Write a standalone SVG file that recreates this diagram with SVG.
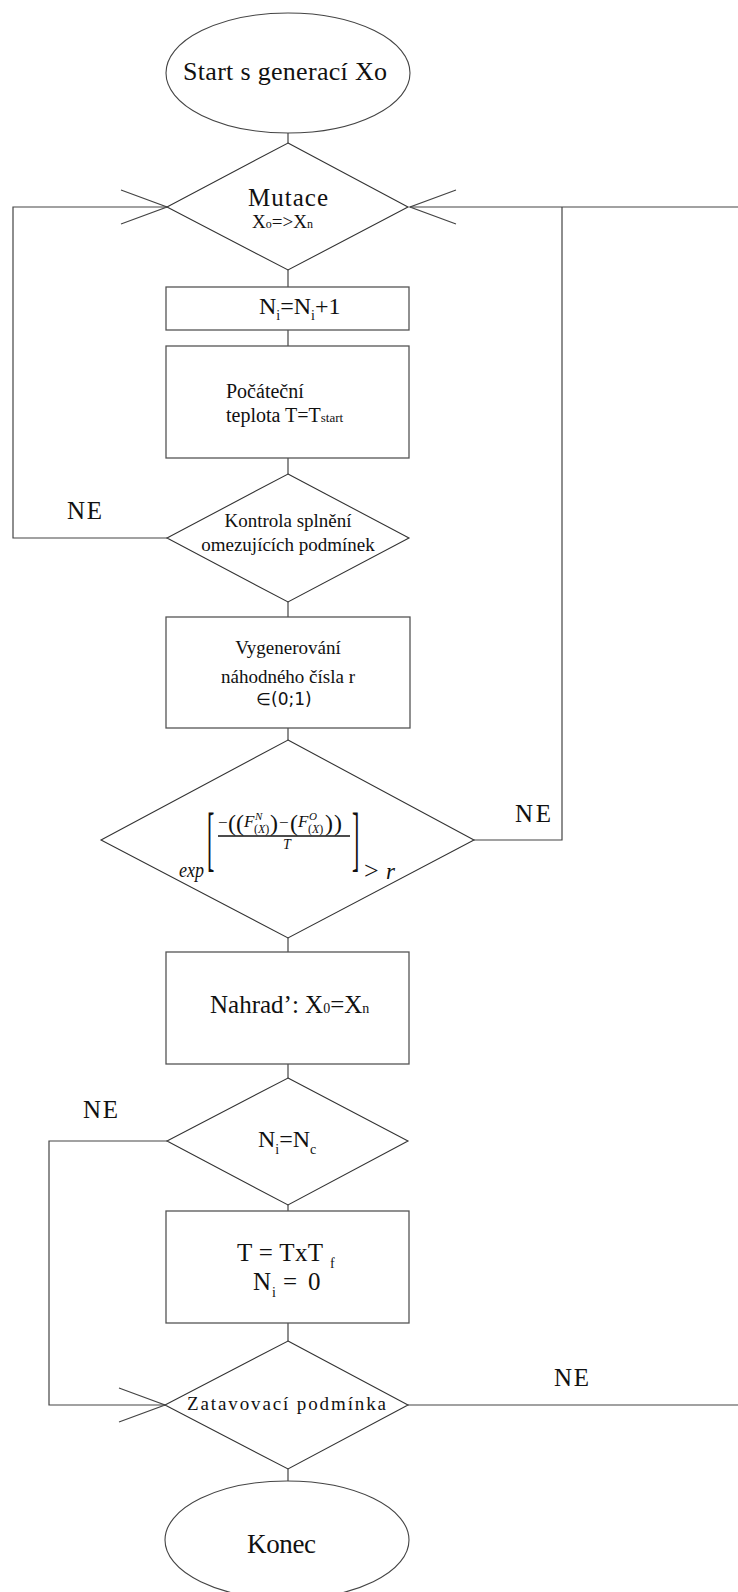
<svg xmlns="http://www.w3.org/2000/svg" width="738" height="1592" viewBox="0 0 738 1592">
  <style>
    .box { fill: #fff; stroke: #555; stroke-width: 1.3; }
    .dec { fill: #fff; stroke: #333; stroke-width: 1.1; }
    .term { fill: #fff; stroke: #444; stroke-width: 1.1; }
    .conn { fill: none; stroke: #444; stroke-width: 1.2; }
    .t { font-family: "Liberation Serif", "Times New Roman", serif; fill: #111; }
    .m { font-family: "Liberation Serif", "Times New Roman", serif; font-style: italic; fill: #111; }
    .s { font-family: "DejaVu Sans", "Noto Sans", sans-serif; fill: #111; }
  </style>
  <defs>
    <!-- open two-stroke arrowhead, tip at the line end -->
    <marker id="open" markerUnits="userSpaceOnUse" viewBox="-48 -19 50 38" refX="0" refY="0" markerWidth="50" markerHeight="38" orient="auto" overflow="visible">
      <path d="M-46,-17 L0,0 L-46,17" fill="none" stroke="#444" stroke-width="1.2"/>
    </marker>
  </defs>

  <rect width="738" height="1592" fill="#fff"/>

  <!-- connectors -->
  <g id="connectors">
    <line class="conn" x1="288" y1="133" x2="288" y2="143"/>
    <line class="conn" x1="288" y1="270" x2="288" y2="287"/>
    <line class="conn" x1="288" y1="330" x2="288" y2="346"/>
    <line class="conn" x1="288" y1="458" x2="288" y2="474"/>
    <line class="conn" x1="288" y1="602" x2="288" y2="617"/>
    <line class="conn" x1="288" y1="728" x2="288" y2="740"/>
    <line class="conn" x1="288" y1="938" x2="288" y2="952"/>
    <line class="conn" x1="288" y1="1064" x2="288" y2="1078"/>
    <line class="conn" x1="288" y1="1205" x2="288" y2="1211"/>
    <line class="conn" x1="288" y1="1323" x2="288" y2="1341"/>
    <line class="conn" x1="288" y1="1469" x2="288" y2="1481"/>
    <!-- NE: constraint check back to mutation -->
    <path class="conn" d="M167,538 H13 V207 H167" marker-end="url(#open)"/>
    <!-- NE: acceptance test back to mutation -->
    <path class="conn" d="M474,840 H562 V207"/>
    <path class="conn" d="M738,207 H410" marker-end="url(#open)"/>
    <!-- NE: Ni=Nc back to stop condition -->
    <path class="conn" d="M167,1141 H49 V1405 H165" marker-end="url(#open)"/>
    <!-- NE: stop condition leaves to the right -->
    <path class="conn" d="M408,1405 H738"/>
    <text class="t" x="67" y="519" font-size="25" textLength="35">NE</text>
    <text class="t" x="515" y="822" font-size="25" textLength="36">NE</text>
    <text class="t" x="83" y="1118" font-size="25" textLength="35">NE</text>
    <text class="t" x="554" y="1386" font-size="25" textLength="35">NE</text>
  </g>

  <g id="start">
    <ellipse class="term" cx="288" cy="73" rx="122" ry="60"/>
    <text class="t" x="183" y="80" font-size="26" textLength="204">Start s generací Xo</text>
  </g>

  <g id="mutace">
    <polygon class="dec" points="288,143 408,207 288,270 167,207"/>
    <text class="t" x="248" y="206" font-size="25" textLength="80">Mutace</text>
    <text class="t" x="252" y="228" font-size="19">X<tspan font-size="12">o</tspan>=&gt;X<tspan font-size="12">n</tspan></text>
  </g>

  <g id="counter">
    <rect class="box" x="166" y="287" width="243" height="43"/>
    <text class="t" x="259" y="314" font-size="24">N<tspan y="320" font-size="14">i</tspan><tspan y="314">=N</tspan><tspan y="320" font-size="14">i</tspan><tspan y="314">+1</tspan></text>
  </g>

  <g id="initial-temp">
    <rect class="box" x="166" y="346" width="243" height="112"/>
    <text class="t" x="226" y="398" font-size="20">Počáteční</text>
    <text class="t" x="226" y="422" font-size="20">teplota T=T<tspan font-size="13">start</tspan></text>
  </g>

  <g id="constraints">
    <polygon class="dec" points="288,474 409,538 288,602 167,538"/>
    <text class="t" x="288" y="527" font-size="19" text-anchor="middle">Kontrola splnění</text>
    <text class="t" x="288" y="551" font-size="19" text-anchor="middle">omezujících podmínek</text>
  </g>

  <g id="random">
    <rect class="box" x="166" y="617" width="244" height="111"/>
    <text class="t" x="288" y="654" font-size="19" text-anchor="middle">Vygenerování</text>
    <text class="t" x="288" y="683" font-size="19" text-anchor="middle">náhodného čísla r</text>
    <text class="s" x="284" y="705" font-size="17" text-anchor="middle">∈(0;1)</text>
  </g>

  <g id="acceptance">
    <polygon class="dec" points="288,740 474,840 288,938 101,840"/>
    <text class="m" x="179" y="877" font-size="22" textLength="25" lengthAdjust="spacingAndGlyphs">exp</text>
    <text class="t" transform="translate(207,862) scale(1,3.3)" font-size="22">[</text>
    <text class="t" transform="translate(352,862) scale(1,3.3)" font-size="22">]</text>
    <!-- numerator: -((F^N_(X)) - (F^O_(X))) -->
    <text class="t" x="218" y="828" font-size="17">−</text>
    <text class="t" x="228" y="831" font-size="24">(</text>
    <text class="t" x="236" y="831" font-size="24">(</text>
    <text class="m" x="244" y="827" font-size="17">F</text>
    <text class="m" x="255" y="820" font-size="11">N</text>
    <text class="t" x="254" y="833" font-size="12">(<tspan class="m">X</tspan>)</text>
    <text class="t" x="270" y="831" font-size="24">)</text>
    <text class="t" x="279" y="828" font-size="17">−</text>
    <text class="t" x="290" y="831" font-size="24">(</text>
    <text class="m" x="298" y="827" font-size="17">F</text>
    <text class="m" x="309" y="820" font-size="11">O</text>
    <text class="t" x="308" y="833" font-size="12">(<tspan class="m">X</tspan>)</text>
    <text class="t" x="325" y="831" font-size="24">)</text>
    <text class="t" x="334" y="831" font-size="24">)</text>
    <line x1="218" y1="836" x2="350" y2="836" stroke="#111" stroke-width="1.3"/>
    <text class="m" x="287" y="849" font-size="14" text-anchor="middle">T</text>
    <text class="t" x="364" y="879" font-size="26">&gt;</text>
    <text class="m" x="386" y="879" font-size="23">r</text>
  </g>

  <g id="replace">
    <rect class="box" x="166" y="952" width="243" height="112"/>
    <text class="t" x="210" y="1013" font-size="25">Nahrad’: X<tspan font-size="14">0</tspan>=X<tspan font-size="14">n</tspan></text>
  </g>

  <g id="cycle-check">
    <polygon class="dec" points="288,1078 408,1141 288,1205 167,1141"/>
    <text class="t" x="258" y="1147" font-size="24">N<tspan y="1154" font-size="14">i</tspan><tspan y="1147">=N</tspan><tspan y="1154" font-size="14">c</tspan></text>
  </g>

  <g id="cooling">
    <rect class="box" x="166" y="1211" width="243" height="112"/>
    <text class="t" x="237" y="1261" font-size="25" textLength="86">T = TxT</text>
    <text class="t" x="330" y="1268" font-size="14">f</text>
    <text class="t" x="253" y="1290" font-size="25">N</text>
    <text class="t" x="272" y="1297" font-size="14">i</text>
    <text class="t" x="283" y="1290" font-size="25">=</text>
    <text class="t" x="308" y="1290" font-size="25">0</text>
  </g>

  <g id="stop-condition">
    <polygon class="dec" points="288,1341 408,1405 288,1469 165,1405"/>
    <text class="t" x="187" y="1410" font-size="19" textLength="199">Zatavovací podmínka</text>
  </g>

  <g id="end">
    <ellipse class="term" cx="287" cy="1540" rx="122" ry="59"/>
    <text class="t" x="247" y="1553" font-size="27" textLength="69">Konec</text>
  </g>
</svg>
